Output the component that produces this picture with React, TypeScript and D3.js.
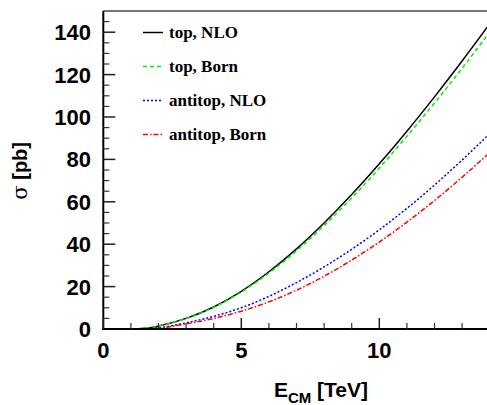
import React from 'react';
import * as d3 from 'd3';

// centre-of-mass energy in TeV
const energies = [0, 1, 1.5, 2, 3, 4, 5, 6, 7, 8, 9, 10, 11, 12, 13, 14];

// cross sections in pb
const topNLO = [0, 0, 0.3, 1.4, 5.0, 10.4, 17.8, 27.0, 37.8, 50.0, 63.4, 77.9, 93.3, 109.5, 126.4, 143.9];
const topBorn = [0, 0, 0.3, 1.4, 4.9, 10.2, 17.4, 26.4, 36.9, 48.8, 61.8, 75.9, 90.9, 106.6, 123.0, 140.0];
const antitopNLO = [0, 0, 0.1, 0.6, 2.9, 6.0, 10.0, 15.4, 21.9, 29.3, 37.6, 46.8, 56.9, 67.9, 79.7, 92.2];
const antitopBorn = [0, 0, 0.05, 0.4, 2.4, 5.0, 8.4, 12.8, 18.3, 24.9, 32.5, 41.0, 50.4, 60.6, 71.6, 83.2];

const seriesNames = ['top, NLO', 'top, Born', 'antitop, NLO', 'antitop, Born'];

const xTicks = [0, 5, 10];
const yTicks = [0, 20, 40, 60, 80, 100, 120, 140];

const W = 487;
const H = 405;

const series = [
  { name: seriesNames[0], values: topNLO, color: '#000000', dash: 'none' },
  { name: seriesNames[1], values: topBorn, color: '#00ee00', dash: '4,3' },
  { name: seriesNames[2], values: antitopNLO, color: '#0000ff', dash: '2,2' },
  { name: seriesNames[3], values: antitopBorn, color: '#ff0000', dash: '5,2,1.5,2' },
];

export default function App() {
  const x = d3.scaleLinear().domain([0, 14]).range([103.3, 489.7]);
  const y = d3.scaleLinear().domain([0, 150]).range([329, 11]);

  const line = d3.line<[number, number]>()
    .x(d => x(d[0]))
    .y(d => y(d[1]))
    .curve(d3.curveMonotoneX);

  const xMinor = d3.range(1, 15).filter(v => v % 5 !== 0);
  const yMinor = d3.range(5, 150, 5).filter(v => v % 20 !== 0);

  const tickFont = { fontFamily: 'Liberation Sans, Arial, sans-serif', fontWeight: 'bold', fontSize: 22 };

  return (
    <div style={{ position: 'absolute', left: 0, top: 0 }}>
      <svg width={W} height={H} style={{ display: 'block', background: '#fff' }}>
        <defs>
          <clipPath id="plot">
            <rect x={x(0)} y={y(150)} width={x(14) - x(0)} height={y(0) - y(150)} />
          </clipPath>
        </defs>

        {/* frame */}
        <line x1={x(0)} x2={W} y1={y(150)} y2={y(150)} stroke="#444" strokeWidth={1.5} />

        {/* curves */}
        <g clipPath="url(#plot)">
          {series.map(s => (
            <path
              key={s.name}
              d={line(energies.map((e, i) => [e, s.values[i]] as [number, number])) || ''}
              fill="none"
              stroke={s.color}
              strokeWidth={1.5}
              strokeDasharray={s.dash}
            />
          ))}
        </g>

        {/* y axis */}
        <line x1={x(0)} x2={x(0)} y1={y(0) + 1} y2={y(150)} stroke="#000" strokeWidth={2} />
        {yTicks.map(t => (
          <g key={'y' + t}>
            <line x1={x(0)} x2={x(0) + 12} y1={y(t)} y2={y(t)} stroke="#222" strokeWidth={1.5} />
            <text x={91} y={y(t)} dy="0.36em" textAnchor="end" {...tickFont}>{t}</text>
          </g>
        ))}
        {yMinor.map(t => (
          <line key={'ym' + t} x1={x(0)} x2={x(0) + 6} y1={y(t)} y2={y(t)} stroke="#333" strokeWidth={1.2} />
        ))}

        {/* x axis */}
        <line x1={x(0) - 1} x2={W} y1={y(0)} y2={y(0)} stroke="#000" strokeWidth={2} />
        {xTicks.map(t => (
          <g key={'x' + t}>
            <line x1={x(t)} x2={x(t)} y1={y(0)} y2={y(0) - 11} stroke="#222" strokeWidth={1.5} />
            <text x={x(t)} y={357.5} textAnchor="middle" {...tickFont}>{t}</text>
          </g>
        ))}
        {xMinor.map(t => (
          <line key={'xm' + t} x1={x(t)} x2={x(t)} y1={y(0)} y2={y(0) - 6} stroke="#333" strokeWidth={1.2} />
        ))}

        {/* axis titles */}
        <text x={368} y={397} textAnchor="end" {...tickFont} fontSize={21}>
          E<tspan fontSize={15} dy={6}>CM</tspan><tspan dy={-6}> [TeV]</tspan>
        </text>
        <text transform="translate(27,142) rotate(-90)" textAnchor="end" {...tickFont} fontSize={20}>
          <tspan fontFamily="DejaVu Serif, serif" fontWeight="normal" fontSize={21}>σ</tspan> [pb]
        </text>

        {/* legend */}
        {series.map((s, i) => {
          const ly = 32.5 + i * 34;
          return (
            <g key={'leg' + s.name}>
              <line x1={143} x2={163} y1={ly} y2={ly} stroke={s.color} strokeWidth={1.5} strokeDasharray={s.dash} />
              <text x={169} y={ly} dy="0.33em" fontFamily="Liberation Serif, Times New Roman, serif" fontWeight="bold" fontSize={17}>
                {s.name}
              </text>
            </g>
          );
        })}
      </svg>
    </div>
  );
}
